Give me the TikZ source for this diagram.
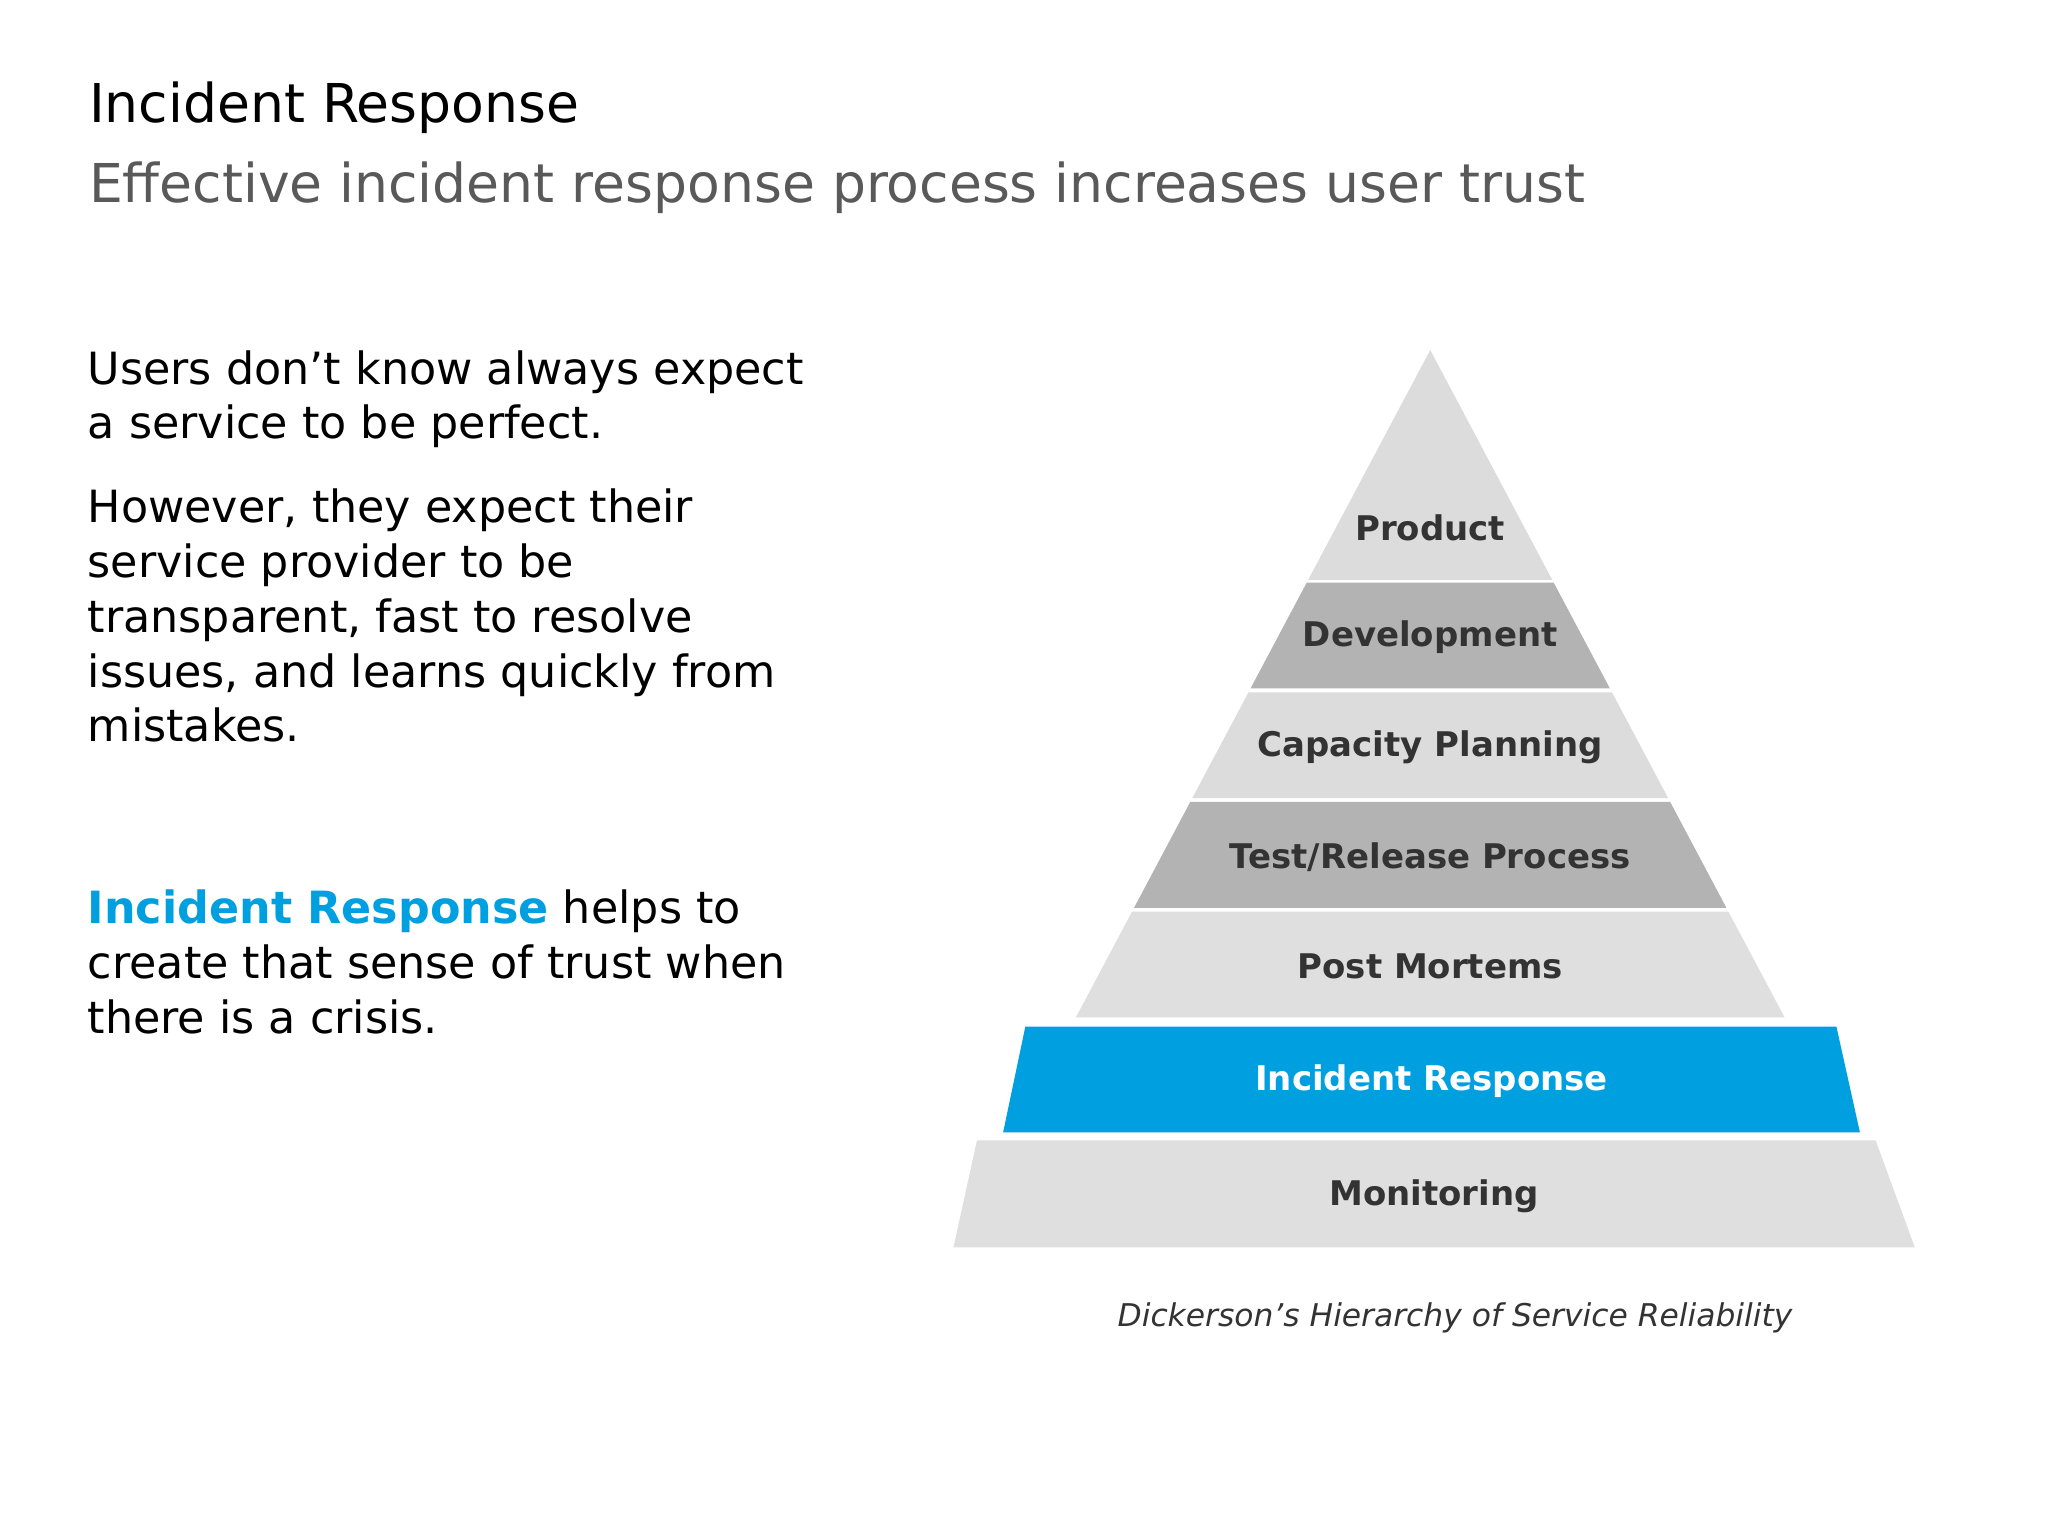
\documentclass[tikz,border=0pt]{standalone}
\usepackage{fontspec}
\setmainfont{DejaVu Sans}
\begin{document}
\definecolor{lg}{HTML}{DCDCDC}
\definecolor{dg}{HTML}{B3B3B3}
\definecolor{bl}{HTML}{00A0E0}
\definecolor{tx}{HTML}{333333}
\begin{tikzpicture}[x=1pt,y=-1pt,
  band/.style={draw=none},
  lab/.style={font=\bfseries\fontsize{26}{30}\selectfont,text=tx,anchor=center},
  body/.style={anchor=north west,align=left,font=\fontsize{34}{42}\selectfont,inner sep=0}]
\useasboundingbox (0,0) rectangle (1568,1176);
\fill[white] (0,0) rectangle (1568,1176);
\node[anchor=base west,inner sep=0,font=\fontsize{41}{48}\selectfont] (t) at (68,94) {Incident Response};
\node[anchor=base west,inner sep=0,font=\fontsize{41}{48}\selectfont,text=black!65] (s) at (68,155) {Effective incident response process increases user trust};
\node[body] (b1) at (67,268) {Users don’t know always expect\\a service to be perfect.};
\node[body] (b2) at (67,374) {However, they expect their\\service provider to be\\transparent, fast to resolve\\issues, and learns quickly from\\mistakes.};
\node[body] (b3) at (67,681) {\textcolor{bl}{\bfseries Incident Response} helps to\\create that sense of trust when\\there is a crisis.};
% pyramid: apex (1095,268), slope 0.531
\def\L#1{\fpeval{1095-0.531*(#1-268)}}
\def\R#1{\fpeval{1095+0.531*(#1-268)}}
\foreach \a/\b/\c in {446/527/dg,530/611/lg,614/695/dg,698/779/lg!90!white}
  \fill[\c] (\L{\a},\a) -- (\R{\a},\a) -- (\R{\b},\b) -- (\L{\b},\b) -- cycle;
\fill[lg] (1095,268) -- (\R{444},444) -- (\L{444},444) -- cycle;
\fill[bl] (785,786) -- (1406,786) -- (1424,867) -- (768,867) -- cycle;
\fill[lg!90!white] (748,873) -- (1436,873) -- (1466,955) -- (730,955) -- cycle;
\node[lab] (p1) at (1095,404) {Product};
\node[lab] (p2) at (1095,488) {Development};
\node[lab] (p3) at (1095,572) {Capacity Planning};
\node[lab] (p4) at (1095,656) {Test/Release Process};
\node[lab] (p5) at (1095,740) {Post Mortems};
\node[lab,text=white] (p6) at (1096,828) {Incident Response};
\node[lab] (p7) at (1098,916) {Monitoring};
\node[font=\itshape\fontsize{24}{28}\selectfont,text=tx] (c) at (1114,1009) {Dickerson’s Hierarchy of Service Reliability};
\end{tikzpicture}
\end{document}
